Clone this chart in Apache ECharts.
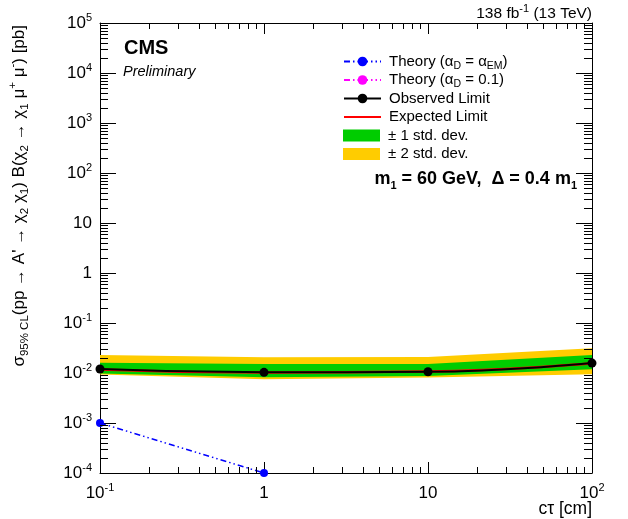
<!DOCTYPE html>
<html>
<head>
<meta charset="utf-8">
<script src="https://cdn.jsdelivr.net/npm/echarts@6/dist/echarts.min.js"></script>
<style>
html,body{margin:0;padding:0;background:#fff;}
#c{width:628px;height:519px;}
</style>
</head>
<body>
<div id="c"></div>
<script>
// ---- data ----
const ctau = [0.1, 1, 10, 100];
const observed = [0.0120, 0.0103, 0.0106, 0.0158];
const expected = [0.0118, 0.0102, 0.0107, 0.0156];
const band1Up = [0.0161, 0.0151, 0.0151, 0.0229];
const band1Down = [0.0098, 0.0082, 0.0087, 0.0119];
const band2Up = [0.0229, 0.0206, 0.0209, 0.0312];
const band2Down = [0.0093, 0.0075, 0.0081, 0.0094];
const ctauTheory = [0.1, 1];
const theoryEM = [0.001, 0.0001];
const theory01 = [];
const xMin = 0.1, xMax = 100, yMin = 1e-4, yMax = 1e5;
const legendNames = ['Theory (αD = αEM)', 'Theory (αD = 0.1)', 'Observed Limit', 'Expected Limit', '± 1 std. dev.', '± 2 std. dev.'];

const FONT = '"Liberation Sans", Arial, Helvetica, sans-serif';
const chart = echarts.init(document.getElementById('c'), null, {renderer: 'canvas'});

function powLabel(v) {
  const e = Math.round(Math.log10(v));
  if (e === 0) return '{b|1}';
  if (e === 1) return '{b|10}';
  return '{b|10}{s|' + (e < 0 ? '-' : '') + Math.abs(e) + '}';
}
const labelRich = {
  b: {fontSize: 17, fontFamily: FONT, color: '#000', lineHeight: 22},
  s: {fontSize: 11, fontFamily: FONT, color: '#000', lineHeight: 11, verticalAlign: 'top'}
};

// minor tick values
function minorValues(lo, hi) {
  const out = [];
  for (let e = Math.round(Math.log10(lo)); e < Math.round(Math.log10(hi)); e++) {
    for (let m = 2; m <= 9; m++) out.push(m * Math.pow(10, e));
  }
  return out;
}
const xMinor = minorValues(xMin, xMax);
const yMinor = minorValues(yMin, yMax);

function bandSeries(name, up, down, color, z) {
  return {
    name: name, type: 'custom', z: z, clip: true,
    data: ctau.map((x, i) => [x, down[i], up[i]]),
    encode: {x: 0, y: [1, 2]},
    itemStyle: {color: color},
    renderItem: function (params, api) {
      if (params.dataIndex !== 0) return null;
      const pts = [];
      for (let i = 0; i < ctau.length; i++) pts.push(api.coord([ctau[i], up[i]]));
      for (let i = ctau.length - 1; i >= 0; i--) pts.push(api.coord([ctau[i], down[i]]));
      return {type: 'polygon', shape: {points: pts}, style: {fill: color}};
    }
  };
}

function minorTickSeries(vals, isX) {
  return {
    type: 'custom', z: 20, silent: true, clip: false,
    xAxisIndex: 0, yAxisIndex: 0,
    data: vals.map(v => isX ? [v, 1] : [1, v]),
    encode: {x: 0, y: 1},
    renderItem: function (params, api) {
      const cs = params.coordSys;
      const p = api.coord([api.value(0), api.value(1)]);
      const st = {stroke: '#000', lineWidth: 1};
      if (isX) {
        const x = Math.round(p[0]) + 0.5;
        return {type: 'group', children: [
          {type: 'line', shape: {x1: x, y1: cs.y + cs.height, x2: x, y2: cs.y + cs.height - 6}, style: st},
          {type: 'line', shape: {x1: x, y1: cs.y, x2: x, y2: cs.y + 6}, style: st}
        ]};
      } else {
        const y = Math.round(p[1]) + 0.5;
        return {type: 'group', children: [
          {type: 'line', shape: {x1: cs.x, y1: y, x2: cs.x + 8, y2: y}, style: st},
          {type: 'line', shape: {x1: cs.x + cs.width, y1: y, x2: cs.x + cs.width - 8, y2: y}, style: st}
        ]};
      }
    }
  };
}

function legendFmt(name) {
  if (name === legendNames[0]) return '{n|Theory (α}{d|D}{n| = α}{d|EM}{n|)}';
  if (name === legendNames[1]) return '{n|Theory (α}{d|D}{n| = 0.1)}';
  return '{n|' + name + '}';
}
const legendRows = [60, 78.5, 97, 115.5, 134, 152.5];
const legends = legendNames.map((nm, i) => {
  const item = {name: nm};
  if (i >= 4) item.icon = 'rect';
  if (i === 3) item.itemStyle = {opacity: 0};
  return {
    data: [item],
    left: 343, top: legendRows[i] - 6, padding: 0,
    itemWidth: 37, itemHeight: 12, selectedMode: false,
    formatter: legendFmt,
    textStyle: {
      padding: [0, 0, 0, 3],
      rich: {
        n: {fontSize: 15, fontFamily: FONT, color: '#000', lineHeight: 20},
        d: {fontSize: 10.5, fontFamily: FONT, color: '#000', lineHeight: 10, verticalAlign: 'bottom'}
      }
    }
  };
});

const axisCommon = {
  type: 'log', logBase: 10,
  axisLine: {show: true, onZero: false, lineStyle: {color: '#000', width: 1}},
  splitLine: {show: false}
};

const option = {
  animation: false,
  backgroundColor: '#fff',
  grid: {left: 100, top: 23, width: 492, height: 450, containLabel: false},
  legend: legends,
  xAxis: [
    Object.assign({}, axisCommon, {
      position: 'bottom', min: xMin, max: xMax, splitNumber: 3,
      axisTick: {show: true, inside: true, length: 11, lineStyle: {color: '#000'}},
      axisLabel: {show: true, margin: 9, formatter: powLabel, rich: labelRich, showMinLabel: true, showMaxLabel: true}
    }),
    Object.assign({}, axisCommon, {
      position: 'top', min: xMin, max: xMax, splitNumber: 3,
      axisTick: {show: true, inside: true, length: 11, lineStyle: {color: '#000'}},
      axisLabel: {show: false}
    })
  ],
  yAxis: [
    Object.assign({}, axisCommon, {
      position: 'left', min: yMin, max: yMax, splitNumber: 9,
      axisTick: {show: true, inside: true, length: 16, lineStyle: {color: '#000'}},
      axisLabel: {show: true, margin: 8, formatter: powLabel, rich: labelRich, showMinLabel: true, showMaxLabel: true}
    }),
    Object.assign({}, axisCommon, {
      position: 'right', min: yMin, max: yMax, splitNumber: 9,
      axisTick: {show: true, inside: true, length: 16, lineStyle: {color: '#000'}},
      axisLabel: {show: false}
    })
  ],
  series: [
    bandSeries('± 2 std. dev.', band2Up, band2Down, '#ffcc00', 1),
    bandSeries('± 1 std. dev.', band1Up, band1Down, '#00cc00', 2),
    {
      name: 'Expected Limit', type: 'line', z: 3, smooth: true, symbol: 'none',
      data: ctau.map((x, i) => [x, expected[i]]),
      lineStyle: {color: '#ff0000', width: 2.5}, itemStyle: {color: '#ff0000'}
    },
    {
      name: 'Observed Limit', type: 'line', z: 4, smooth: true,
      symbol: 'circle', symbolSize: 9,
      data: ctau.map((x, i) => [x, observed[i]]),
      lineStyle: {color: '#000', width: 2}, itemStyle: {color: '#000'}
    },
    {
      name: 'Theory (αD = αEM)', type: 'line', z: 5, symbol: 'circle', symbolSize: 8,
      data: ctauTheory.map((x, i) => [x, theoryEM[i]]),
      lineStyle: {color: '#0000ff', width: 1.5, type: [6, 3, 1.5, 3, 1.5, 3]},
      itemStyle: {color: '#0000ff'}
    },
    {
      name: 'Theory (αD = 0.1)', type: 'line', z: 5, symbol: 'circle', symbolSize: 8,
      data: theory01,
      lineStyle: {color: '#ff00ff', width: 1.5, type: [6, 3, 1.5, 3, 1.5, 3]},
      itemStyle: {color: '#ff00ff'}
    },
    minorTickSeries(xMinor, true),
    minorTickSeries(yMinor, false)
  ],
  graphic: [
    {type: 'text', left: 124, top: 38, style: {text: 'CMS', font: 'bold 20px ' + FONT, fill: '#000'}},
    {type: 'text', left: 123, top: 64, style: {text: 'Preliminary', font: 'italic 14.5px ' + FONT, fill: '#000'}},
    {type: 'text', right: 36, top: 3, style: {
      text: '{b|138 fb}{s|-1}{b| (13 TeV)}', fill: '#000',
      rich: {b: {fontSize: 15.5, fontFamily: FONT, lineHeight: 21}, s: {fontSize: 11, fontFamily: FONT, lineHeight: 11, verticalAlign: 'top'}}
    }},
    {type: 'text', right: 51, top: 170, style: {
      text: '{b|m}{d|1}{b| = 60 GeV,  Δ = 0.4 m}{d|1}', fill: '#000',
      rich: {b: {fontSize: 18, fontWeight: 'bold', fontFamily: FONT, lineHeight: 24}, d: {fontSize: 11, fontWeight: 'bold', fontFamily: FONT, lineHeight: 11, verticalAlign: 'bottom'}}
    }},
    {type: 'text', right: 36, top: 500, style: {text: 'cτ [cm]', font: '17.5px ' + FONT, fill: '#000'}},
    {type: 'text', x: 19, y: 25, rotation: Math.PI / 2, style: {
      text: '{b|σ}{d|95% CL}{b|(pp → A\' → χ}{d|2}{b| χ}{d|1}{b|) B(χ}{d|2}{b| → χ}{d|1}{b| μ}{s|+}{b| μ}{s|-}{b|) [pb]}',
      align: 'right', verticalAlign: 'middle', fill: '#000',
      rich: {
        b: {fontSize: 17, fontFamily: FONT, lineHeight: 24},
        d: {fontSize: 11.5, fontFamily: FONT, lineHeight: 11, verticalAlign: 'bottom'},
        s: {fontSize: 11.5, fontFamily: FONT, lineHeight: 11, verticalAlign: 'top'}
      }
    }}
  ]
};
chart.setOption(option);
</script>
</body>
</html>
